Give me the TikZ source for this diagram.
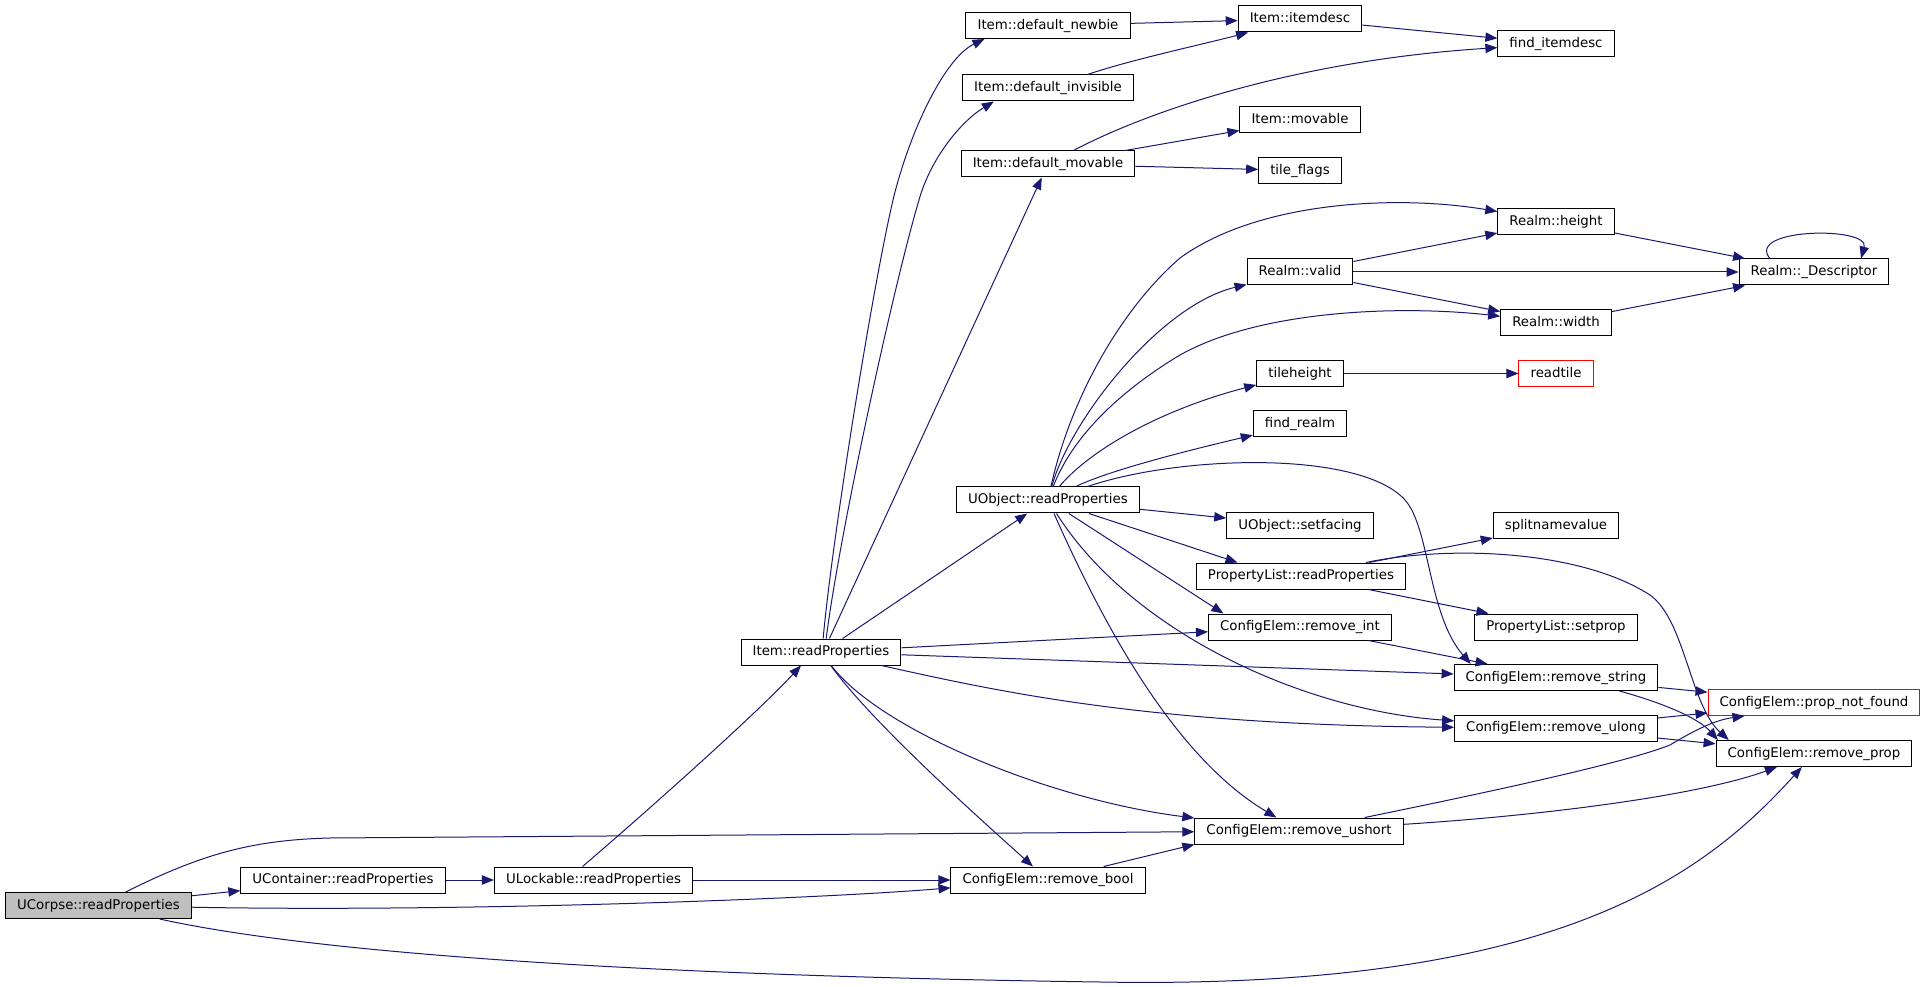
\documentclass[tikz,border=0pt]{standalone}
\usepackage{fontspec}
\setmainfont{DejaVu Sans}
\usetikzlibrary{arrows.meta}
\definecolor{edgeblue}{HTML}{191970}
\definecolor{callergray}{HTML}{BFBFBF}
\definecolor{undocred}{HTML}{FF0000}

\begin{document}
\begin{tikzpicture}[x=0.75pt,y=-0.75pt,
   fn/.style={draw=black,fill=white,line width=0.75pt,font=\fontsize{10}{12}\selectfont,
      minimum height=19.5pt,inner xsep=8.7pt,inner ysep=0pt,text height=7.6pt,text depth=2.2pt},
   call/.style={draw=edgeblue,line width=0.75pt,-{Triangle[length=9pt,width=7pt]}}]
   \useasboundingbox (0,0) rectangle (1925,987);

   \node[fn,fill=callergray] (ucorpse) at (98.5,905.5) {UCorpse::readProperties};
   \node[fn] (ucontainer) at (343,880) {UContainer::readProperties};
   \node[fn] (ulockable) at (593.5,880) {ULockable::readProperties};
   \node[fn] (itemread) at (821,652) {Item::readProperties};
   \node[fn] (newbie) at (1048,25.5) {Item::default\_newbie};
   \node[fn] (invisible) at (1048,88) {Item::default\_invisible};
   \node[fn] (movable) at (1048,164) {Item::default\_movable};
   \node[fn] (uobjread) at (1048,500) {UObject::readProperties};
   \node[fn] (removebool) at (1048,880) {ConfigElem::remove\_bool};
   \node[fn] (itemdesc) at (1300,19) {Item::itemdesc};
   \node[fn] (itemmovable) at (1300,120) {Item::movable};
   \node[fn] (tileflags) at (1300,170.5) {tile\_flags};
   \node[fn] (realmvalid) at (1300,272) {Realm::valid};
   \node[fn] (tileheight) at (1300,373.5) {tileheight};
   \node[fn] (findrealm) at (1300,424) {find\_realm};
   \node[fn] (setfacing) at (1300,525.5) {UObject::setfacing};
   \node[fn] (plread) at (1301,576) {PropertyList::readProperties};
   \node[fn] (removeint) at (1300,627) {ConfigElem::remove\_int};
   \node[fn] (removeushort) at (1299,831) {ConfigElem::remove\_ushort};
   \node[fn] (finditemdesc) at (1556,44) {find\_itemdesc};
   \node[fn] (realmheight) at (1556,221.5) {Realm::height};
   \node[fn] (realmwidth) at (1556,322.5) {Realm::width};
   \node[fn,draw=undocred] (readtile) at (1556,373.5) {readtile};
   \node[fn] (splitname) at (1556,525.5) {splitnamevalue};
   \node[fn] (setprop) at (1556,627) {PropertyList::setprop};
   \node[fn] (removestring) at (1556,677.5) {ConfigElem::remove\_string};
   \node[fn] (removeulong) at (1556,728) {ConfigElem::remove\_ulong};
   \node[fn] (descriptor) at (1814,272) {Realm::\_Descriptor};
   \node[fn,draw=undocred] (propnotfound) at (1814,702.5) {ConfigElem::prop\_not\_found};
   \node[fn] (removeprop) at (1814,753.5) {ConfigElem::remove\_prop};

   \draw[call] (ucorpse) -- (ucontainer);
   \draw[call] (ucorpse) .. controls (200,855) and (250,840) .. (330,838) -- (removeushort);
   \draw[call] (ucorpse) .. controls (450,912) and (800,900) .. (removebool);
   \draw[call] (ucorpse) .. controls (300,950) and (600,975) .. (1100,982)
      .. controls (1550,990) and (1700,880) .. (removeprop);
   \draw[call] (ucontainer) -- (ulockable);
   \draw[call] (ulockable) -- (removebool);
   \draw[call] (ulockable.129) .. controls (660,800) and (760,710) .. (itemread.-146);

   \draw[call] (itemread.81) .. controls (832,540) and (872,290) .. (893,200)
      .. controls (910,130) and (945,58) .. (newbie.-168);
   \draw[call] (itemread.69) .. controls (840,530) and (895,280) .. (919,200)
      .. controls (930,160) and (960,122) .. (invisible.-166);
   \draw[call] (itemread.58) -- (movable.-115);
   \draw[call] (itemread.32) -- (uobjread.-147);
   \draw[call] (itemread) -- (removeint);
   \draw[call] (itemread) -- (removestring);
   \draw[call] (itemread) .. controls (1000,692) and (1150,725) .. (removeulong);
   \draw[call] (itemread) .. controls (880,730) and (1050,800) .. (removeushort);
   \draw[call] (itemread) .. controls (870,720) and (970,810) .. (removebool);

   \draw[call] (newbie) -- (itemdesc);
   \draw[call] (invisible) .. controls (1130,60) and (1200,45) .. (itemdesc);
   \draw[call] (itemdesc) -- (finditemdesc);
   \draw[call] (movable) .. controls (1150,110) and (1300,60) .. (finditemdesc);
   \draw[call] (movable) -- (itemmovable);
   \draw[call] (movable) -- (tileflags);

   \draw[call] (uobjread) .. controls (1070,400) and (1120,310) .. (1180,258)
      .. controls (1260,200) and (1400,195) .. (realmheight);
   \draw[call] (uobjread) .. controls (1070,420) and (1160,305) .. (realmvalid);
   \draw[call] (uobjread) .. controls (1075,430) and (1130,385) .. (1180,355)
      .. controls (1260,310) and (1400,305) .. (realmwidth);
   \draw[call] (uobjread) .. controls (1090,450) and (1160,410) .. (tileheight);
   \draw[call] (uobjread) .. controls (1110,470) and (1190,450) .. (findrealm);
   \draw[call] (uobjread) .. controls (1180,455) and (1360,450) .. (1405,500)
      .. controls (1430,528) and (1428,615) .. (removestring.171);
   \draw[call] (uobjread) -- (setfacing);
   \draw[call] (uobjread) -- (plread.168);
   \draw[call] (uobjread) -- (removeint.170);
   \draw[call] (uobjread) .. controls (1130,630) and (1300,710) .. (removeulong);
   \draw[call] (uobjread) .. controls (1110,640) and (1180,760) .. (removeushort);

   \draw[call] (realmvalid) -- (realmheight);
   \draw[call] (realmvalid) -- (descriptor);
   \draw[call] (realmvalid) -- (realmwidth);
   \draw[call] (realmheight) -- (descriptor);
   \draw[call] (realmwidth) -- (descriptor);
   \draw[call] (descriptor.163) .. controls (1745,228) and (1870,226) .. (descriptor.16);
   \draw[call] (tileheight) -- (readtile);

   \draw[call] (plread) -- (splitname);
   \draw[call] (plread) -- (setprop);
   \draw[call] (plread) .. controls (1450,545) and (1580,550) .. (1650,595)
      .. controls (1685,620) and (1690,705) .. (removeprop.171);
   \draw[call] (removeint) -- (removestring);
   \draw[call] (removestring) -- (propnotfound);
   \draw[call] (removestring.-12) .. controls (1670,705) and (1700,720) .. (removeprop.172);
   \draw[call] (removeulong) -- (propnotfound);
   \draw[call] (removeulong) -- (removeprop);
   \draw[call] (removeushort) .. controls (1450,800) and (1620,765) .. (1670,745)
      .. controls (1695,730) and (1715,720) .. (propnotfound.-169);
   \draw[call] (removeushort) .. controls (1550,815) and (1700,795) .. (removeprop);
   \draw[call] (removebool) -- (removeushort.south west);
\end{tikzpicture}
\end{document}
